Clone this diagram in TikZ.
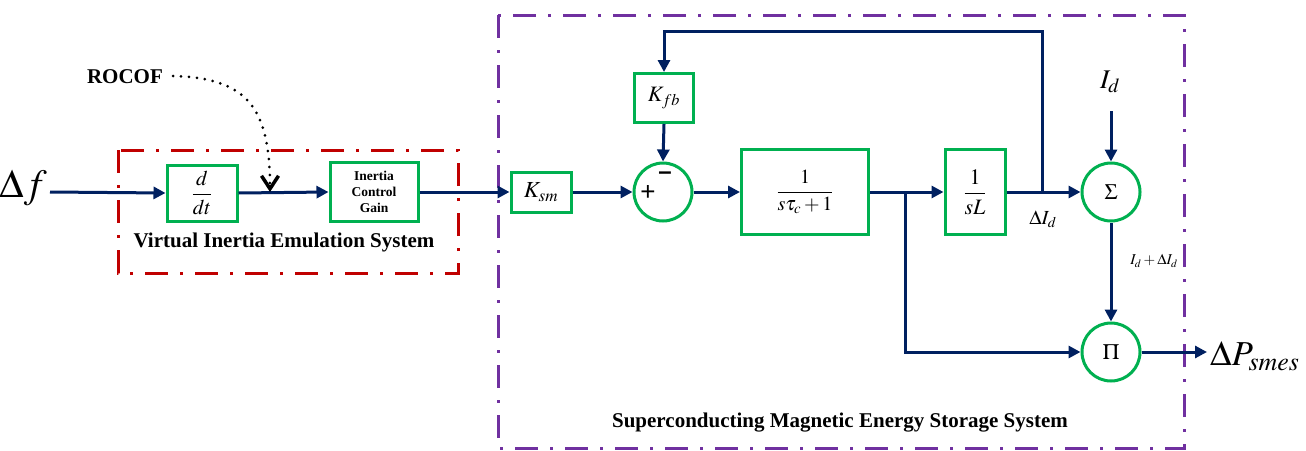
\documentclass[tikz,border=0pt]{standalone}
\usepackage{mathptmx}
\usepackage[no-math]{fontspec}
\setmainfont{Liberation Serif}
\newfontfamily\arialf{Liberation Sans}
\usetikzlibrary{arrows.meta}
\definecolor{navy}{RGB}{0,32,96}
\definecolor{gr}{RGB}{0,176,80}
\definecolor{rd}{RGB}{192,0,0}
\definecolor{pu}{RGB}{112,48,160}
\begin{document}
\begin{tikzpicture}[x=1pt,y=-1pt,
  gbox/.style={draw=gr, line width=3pt, fill=white, inner sep=0pt},
  gcirc/.style={draw=gr, line width=3pt, fill=white, circle, minimum size=58pt, inner sep=0pt},
  conn/.style={draw=navy, line width=3pt, -{Triangle[length=12pt,width=12pt]}},
  lbl/.style={font=\fontsize{21}{25}\selectfont\bfseries, inner sep=0pt},
  frame/.style={line width=3pt, dash pattern=on 23pt off 12pt on 3pt off 12pt},
  fs/.style={font=\fontsize{#1}{#1}\selectfont, inner sep=0pt}
]
\useasboundingbox (0,0) rectangle (1306,450);

% frames
\draw[frame, draw=rd] (118,150) rectangle (458,273);
\draw[frame, draw=pu] (498,15) rectangle (1184,448);

% blocks
\node[gbox, minimum width=70pt, minimum height=56pt, fs=21] (ddt) at (202,193) {$\displaystyle\frac{d}{dt}$};
\node[gbox, minimum width=88pt, minimum height=59pt, font=\fontsize{13.5}{16}\selectfont\bfseries, align=center] (icg) at (374,192) {Inertia\\Control\\Gain};
\node[gbox, minimum width=60pt, minimum height=40pt, fs=23] (ksm) at (541,192) {$K_{sm}$};
\node[gcirc] (sum) at (663,192) {};
\node[gbox, minimum width=59pt, minimum height=49pt, fs=22] (kfb) at (664,98) {$K_{fb}$};
\node[gbox, minimum width=127pt, minimum height=85pt, fs=20] (tf) at (805,192) {$\displaystyle\frac{1}{s\tau_c+1}$};
\node[gbox, minimum width=60pt, minimum height=85pt, fs=22] (sl) at (975,192) {$\displaystyle\frac{1}{sL}$};
\node[gcirc, fs=22] (sig) at (1111,192) {$\Sigma$};
\node[gcirc, fs=22] (pi) at (1111,352) {$\Pi$};

% sum signs
\node[inner sep=0pt, font=\arialf\fontsize{26}{26}\selectfont] (plus) at (648,193) {+};
\node[inner sep=0pt, font=\arialf\bfseries\fontsize{24}{24}\selectfont] (minus) at (665,176) {–};

% texts
\node[fs=40, anchor=east] (df) at (47,188) {$\Delta f$};
\node[lbl] (rocof) at (125,77) {ROCOF};
\node[lbl] (vie) at (284,242) {Virtual Inertia Emulation System};
\node[lbl] (smes) at (840,423) {Superconducting Magnetic Energy Storage System};
\node[fs=27] (id) at (1110,82) {$I_d$};
\node[fs=35, anchor=west] (out) at (1210,356) {$\Delta P_{smes}$};
\node[fs=20] (did) at (1043,219) {$\Delta I_d$};
\node[fs=15] (sumlbl) at (1154,261) {$I_d+\Delta I_d$};

% coordinates
\coordinate (in) at (50,192);
\coordinate (br) at (905,192);
\coordinate (fb) at (1042,192);
\coordinate (fbtop) at (1042,31);
\coordinate (idtop) at (1111,111);
\coordinate (outend) at (1207,352);
\coordinate (rocofstart) at (173,76);
\coordinate (rocofend) at (270,192);

% connectors
\draw[conn] (in) -- (ddt.west);
\draw[conn] (ddt.east) -- (icg.west);
\draw[conn] (icg.east) -- (ksm.west);
\draw[conn] (ksm.east) -- (sum.west);
\draw[conn] (sum.east) -- (tf.west);
\draw[conn] (tf.east) -- (sl.west);
\draw[conn] (sl.east) -- (sig.west);
\draw[conn] (fb) -- (fbtop) -| (kfb.north);
\draw[conn] (kfb.south) -- (sum.north);
\draw[conn] (idtop) -- (sig.north);
\draw[conn] (sig.south) -- (pi.north);
\draw[conn] (br) |- (pi.west);
\draw[conn] (pi.east) -- (outend);

% ROCOF dotted arrow
\draw[black, line width=3pt, line cap=round, dash pattern=on 0pt off 8pt,
  -{Straight Barb[length=13pt,width=17pt,line width=3.5pt]}]
  (rocofstart) .. controls (245,78) and (270,105) .. (rocofend);
\end{tikzpicture}
\end{document}
